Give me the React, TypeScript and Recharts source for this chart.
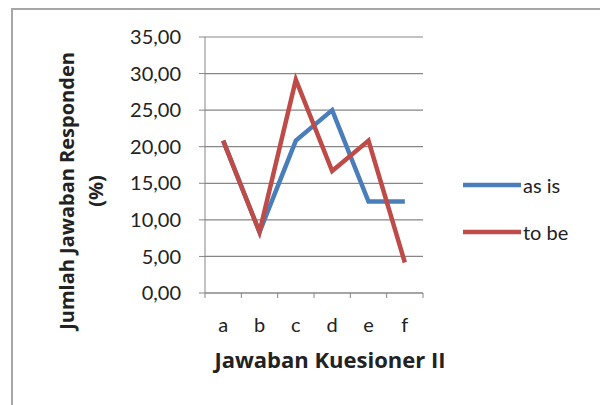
import { LineChart, Line, XAxis, YAxis, CartesianGrid, Legend } from "recharts";

const categories = ["a", "b", "c", "d", "e", "f"];
const asIs = [20.83, 8.33, 20.83, 25.0, 12.5, 12.5];
const toBe = [20.83, 8.33, 29.17, 16.67, 20.83, 4.17];
const yTicks = [0, 5, 10, 15, 20, 25, 30, 35];

const data = categories.map((c, i) => ({ cat: c, asIs: asIs[i], toBe: toBe[i] }));

const FONT = "Lato, 'Open Sans', sans-serif";
const TITLE_FONT = "'Open Sans', Lato, sans-serif";
const BLUE = "#4a7ebb";
const RED = "#be4b48";
const AXIS = "#868686";
const HALF_BAND = 218 / 6 / 2;

const fmt = (v: number) => v.toFixed(2).replace(".", ",");

function CatTick(props: any) {
  const { x, y, payload, index } = props;
  const top = y - 8;
  return (
    <g>
      <line x1={x - HALF_BAND} x2={x - HALF_BAND} y1={top} y2={top + 5} stroke={AXIS} />
      {index === categories.length - 1 && (
        <line x1={x + HALF_BAND} x2={x + HALF_BAND} y1={top} y2={top + 5} stroke={AXIS} />
      )}
      <text x={x} y={y + 31} textAnchor="middle" fontSize={20} fill="#222" fontFamily={FONT}>
        {payload.value}
      </text>
    </g>
  );
}

function YTitle(props: any) {
  const { viewBox } = props;
  const cy = viewBox.y + viewBox.height / 2 + 26;
  return (
    <g fontFamily={TITLE_FONT} fontWeight="bold" fontSize={20} fill="#222">
      <text x={58} y={cy} transform={`rotate(-90 58 ${cy})`} textAnchor="middle" dominantBaseline="central">
        Jumlah Jawaban Responden
      </text>
      <text x={87} y={cy} transform={`rotate(-90 87 ${cy})`} textAnchor="middle" dominantBaseline="central">
        (%)
      </text>
    </g>
  );
}

function LegendBox() {
  const items = [
    { name: "as is", color: BLUE },
    { name: "to be", color: RED },
  ];
  return (
    <svg width={140} height={80}>
      {items.map((it, i) => (
        <g key={it.name}>
          <line x1={0} x2={58} y1={15 + i * 47} y2={15 + i * 47} stroke={it.color} strokeWidth={4.5} />
          <text x={60} y={15 + i * 47} dominantBaseline="central" fontSize={20} fill="#222" fontFamily={FONT}>
            {it.name}
          </text>
        </g>
      ))}
    </svg>
  );
}

export default function App() {
  return (
    <div style={{ position: "relative", width: 600, height: 397 }}>
      <div
        style={{
          position: "absolute",
          left: 3,
          top: 0,
          width: 594,
          height: 410,
          border: "2px solid #a6a6a6",
          boxSizing: "border-box",
        }}
      />
      <LineChart
        width={590}
        height={390}
        data={data}
        margin={{ top: 29, right: 175, bottom: 25, left: 77 }}
        style={{ position: "absolute", left: 0, top: 0 }}
      >
        <CartesianGrid vertical={false} stroke={AXIS} strokeWidth={1.2} />
        <XAxis
          dataKey="cat"
          height={80}
          stroke={AXIS}
          tickLine={false}
          interval={0}
          padding={{ left: HALF_BAND, right: HALF_BAND }}
          tick={<CatTick />}
          label={{
            value: "Jawaban Kuesioner II",
            position: "insideBottom",
            offset: 5,
            dx: 16,
            fontSize: 22,
            fontWeight: "bold",
            fill: "#222",
            fontFamily: TITLE_FONT,
          }}
        />
        <YAxis
          width={120}
          domain={[0, 35]}
          ticks={yTicks}
          interval={0}
          tickFormatter={fmt}
          stroke={AXIS}
          tickSize={6}
          tickMargin={18}
          tick={{ fontSize: 20, fill: "#222", fontFamily: FONT }}
          label={<YTitle />}
        />
        <Line dataKey="asIs" name="as is" stroke={BLUE} strokeWidth={4.5} dot={false} isAnimationActive={false} />
        <Line dataKey="toBe" name="to be" stroke={RED} strokeWidth={4.5} dot={false} isAnimationActive={false} />
        <Legend
          layout="vertical"
          align="center"
          verticalAlign="middle"
          content={<LegendBox />}
          wrapperStyle={{ position: "absolute", left: 455, top: 162, width: 140 }}
        />
      </LineChart>
    </div>
  );
}
